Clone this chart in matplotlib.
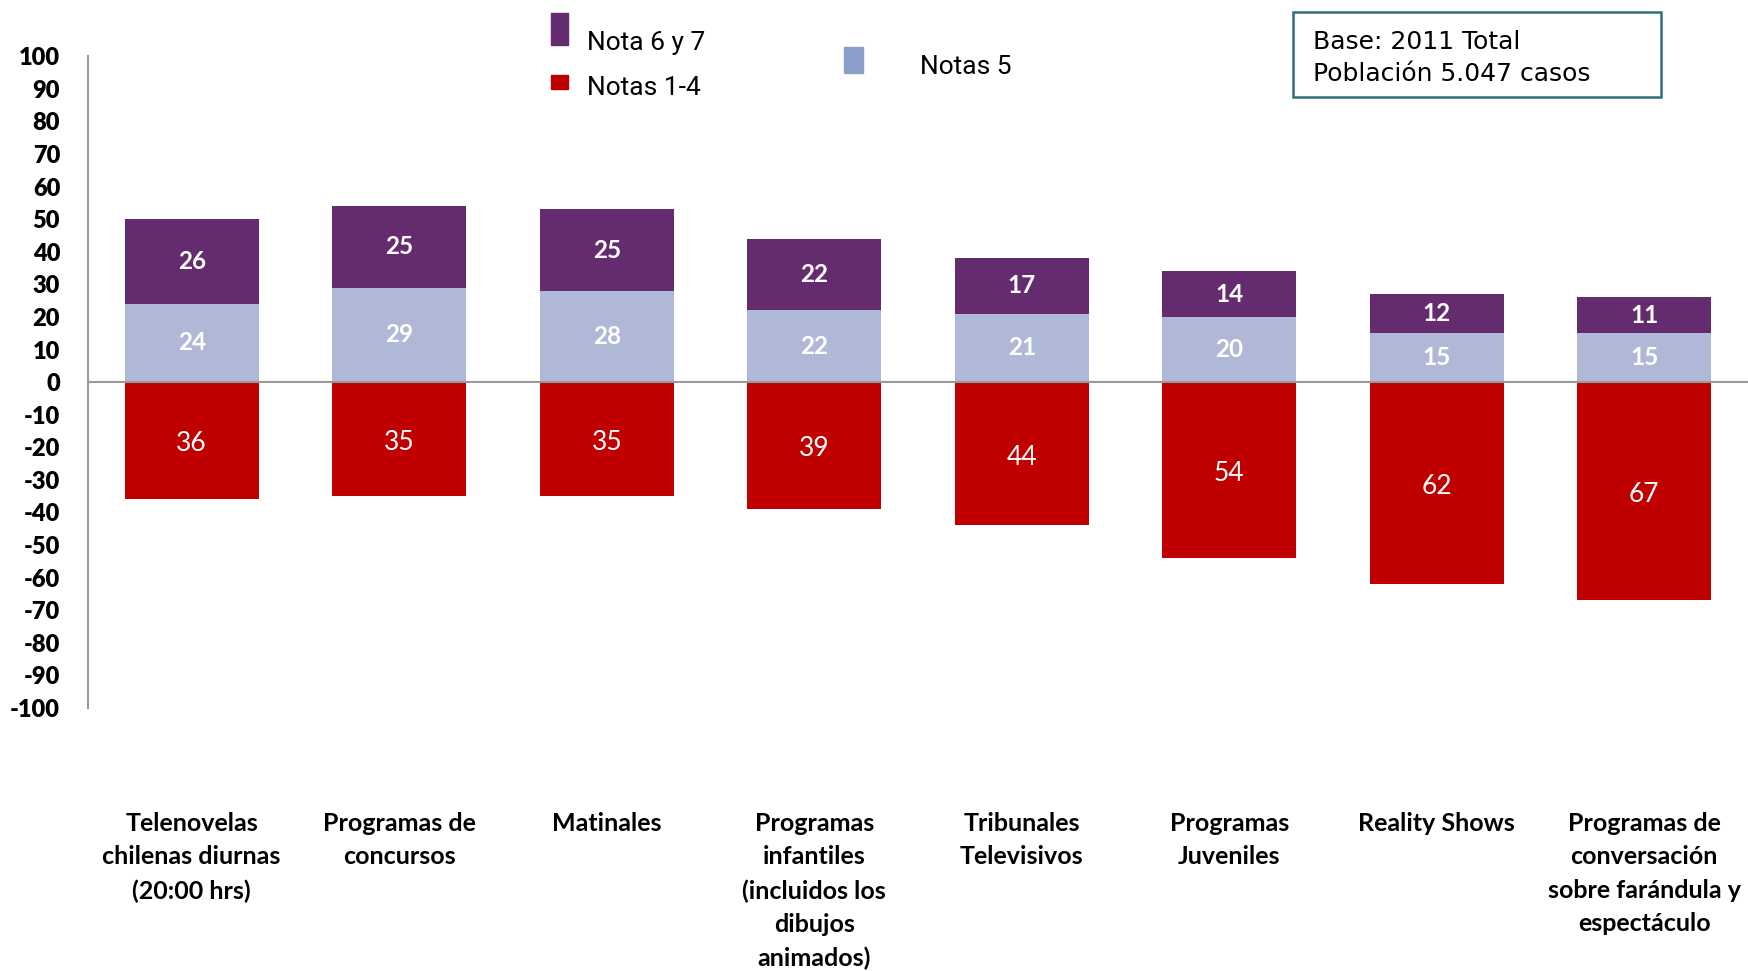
import numpy as np
import matplotlib
matplotlib.use('Agg')
import matplotlib.pyplot as plt
from matplotlib.patches import Rectangle

# datos
categorias = ['Telenovelas\nchilenas diurnas\n(20:00 hrs)', 'Programas de\nconcursos', 'Matinales',
              'Programas\ninfantiles\n(incluidos los\ndibujos\nanimados)', 'Tribunales\nTelevisivos',
              'Programas\nJuveniles', 'Reality Shows',
              'Programas de\nconversación\nsobre farándula y\nespectáculo']
nota_6_7 = [26, 25, 25, 22, 17, 14, 12, 11]
notas_5 = [24, 29, 28, 22, 21, 20, 15, 15]
notas_1_4 = [36, 35, 35, 39, 44, 54, 62, 67]
yticks = list(range(-100, 101, 10))

morado = '#642B6F'
celeste = '#AFB8D6'
rojo = '#C00000'

fig = plt.figure(figsize=(17.48, 9.71), dpi=100)
ax = fig.add_axes([0.0503, 0.271, 0.9497, 0.671])

x = np.arange(len(categorias))
w = 0.645
neg = [-v for v in notas_1_4]
ax.bar(x, notas_5, width=w, color=celeste, zorder=2)
ax.bar(x, nota_6_7, width=w, bottom=notas_5, color=morado, zorder=2)
ax.bar(x, neg, width=w, color=rojo, zorder=2)

# etiquetas de valores
for i in range(len(x)):
    ax.text(x[i], notas_5[i] / 2, str(notas_5[i]), ha='center', va='center',
            color='white', fontsize=17.5, fontweight='bold', family='Lato', zorder=3)
    ax.text(x[i], notas_5[i] + nota_6_7[i] / 2, str(nota_6_7[i]), ha='center', va='center',
            color='white', fontsize=17.5, fontweight='bold', family='Lato', zorder=3)
    ax.text(x[i], neg[i] / 2 - 1, str(notas_1_4[i]), ha='center', va='center',
            color='white', fontsize=19, family='Lato', zorder=3)

ax.axhline(0, color='#999999', lw=1.5, zorder=3)
ax.set_xlim(-0.5, 7.5)
ax.set_ylim(-100, 100)
ax.set_yticks(yticks)
ax.set_yticklabels([str(v) for v in yticks], fontsize=17, fontweight='heavy', family='Lato')
ax.set_xticks(x)
ax.set_xticklabels(categorias, fontsize=18, fontweight='bold', family='Lato', linespacing=1.55)
ax.tick_params(axis='x', length=0, pad=75)
ax.tick_params(axis='y', length=0, pad=20)
for s in ['top', 'right', 'bottom']:
    ax.spines[s].set_visible(False)
ax.spines['left'].set_color('#999999')
ax.spines['left'].set_linewidth(1.5)

# leyenda manual
W, H = 1748, 971
def rect(x0, y0, x1, y1, c):
    fig.patches.append(Rectangle((x0 / W, 1 - y1 / H), (x1 - x0) / W, (y1 - y0) / H,
                                 transform=fig.transFigure, color=c, figure=fig))
rect(551, 13, 568, 45, morado)
rect(551, 75, 568, 89, rojo)
rect(844, 47, 863, 73, '#8B9DC9')
fam = ['Liberation Sans Narrow', 'Roboto']
fig.text(587 / W, 1 - 43 / H, 'Nota 6 y 7', fontsize=19, family=fam, va='center')
fig.text(587 / W, 1 - 88 / H, 'Notas 1-4', fontsize=19, family=fam, va='center')
fig.text(920 / W, 1 - 67 / H, 'Notas 5', fontsize=19, family=fam, va='center')

# recuadro base
fig.patches.append(Rectangle((1293 / W, 1 - 97 / H), 368 / W, 85 / H, transform=fig.transFigure,
                             fill=False, edgecolor='#2E6F7E', lw=1.8, figure=fig))
fig.text(1313 / W, 1 - 42 / H, 'Base: 2011 Total', fontsize=18, family='DejaVu Sans', va='center')
fig.text(1313 / W, 1 - 74 / H, 'Población 5.047 casos', fontsize=18, family='DejaVu Sans', va='center')

fig.savefig('out.png', dpi=100)
